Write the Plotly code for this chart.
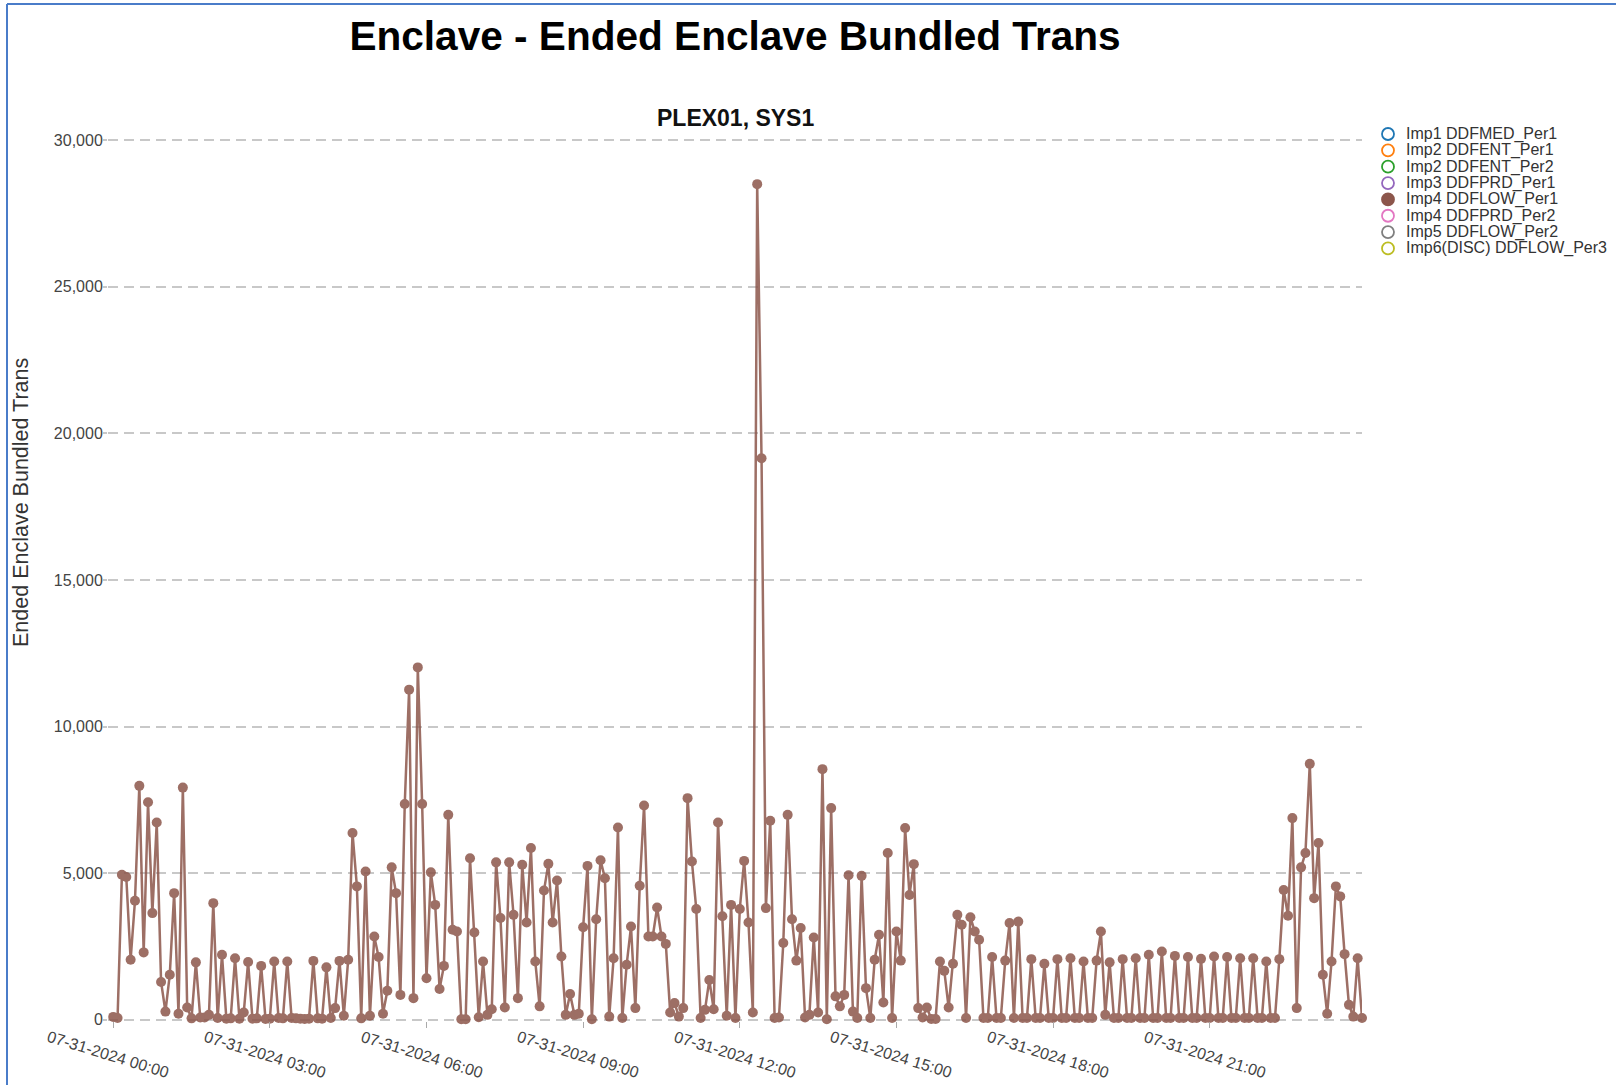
import pandas as pd
import plotly.graph_objects as go

# Ended enclave bundled transactions, 5-minute samples on 07-31-2024 (Imp4 DDFLOW_Per1)
start_time = "2024-07-31 00:00"
ended_trans = [
    100, 60, 4950, 4870, 2050, 4060, 7980, 2300, 7420, 3640,
    6730, 1290, 280, 1540, 4320, 210, 7920, 420, 50, 1960,
    80, 80, 170, 3980, 60, 2220, 40, 50, 2100, 40,
    250, 1970, 40, 50, 1840, 30, 40, 1990, 60, 50,
    1990, 60, 50, 40, 30, 40, 2010, 50, 40, 1790,
    60, 400, 2010, 140, 2050, 6370, 4550, 50, 5060, 140,
    2840, 2140, 210, 990, 5200, 4320, 850, 7360, 11260, 740,
    12020, 7360, 1420, 5030, 3920, 1050, 1840, 6990, 3070, 3010,
    20, 20, 5510, 2980, 90, 1990, 170, 360, 5370, 3470,
    420, 5370, 3580, 740, 5290, 3320, 5860, 1990, 460, 4410,
    5320, 3320, 4750, 2160, 170, 880, 170, 210, 3160, 5250,
    20, 3430, 5440, 4830, 110, 2100, 6560, 60, 1880, 3180,
    400, 4570, 7310, 2840, 2840, 3830, 2840, 2590, 250, 570,
    110, 400, 7560, 5400, 3780, 60, 340, 1360, 360, 6730,
    3530, 140, 3920, 60, 3780, 5420, 3320, 250, 28500, 19150,
    3810, 6790, 60, 80, 2620, 6990, 3430, 2020, 3130, 80,
    170, 2810, 250, 8550, 20, 7220, 800, 460, 850, 4930,
    280, 60, 4910, 1080, 60, 2050, 2900, 590, 5690, 60,
    3010, 2020, 6540, 4260, 5310, 400, 80, 420, 30, 30,
    1990, 1670, 420, 1910, 3580, 3240, 60, 3500, 3010, 2730,
    60, 60, 2140, 60, 60, 2020, 3300, 60, 3350, 60,
    60, 2070, 60, 60, 1910, 60, 60, 2070, 60, 60,
    2100, 60, 60, 1990, 60, 60, 2020, 3010, 170, 1960,
    60, 60, 2070, 60, 60, 2100, 60, 60, 2220, 60,
    60, 2330, 60, 60, 2180, 60, 60, 2140, 60, 60,
    2080, 60, 60, 2160, 60, 60, 2140, 60, 60, 2100,
    60, 60, 2100, 60, 60, 1990, 60, 60, 2070, 4430,
    3550, 6880, 400, 5200, 5690, 8730, 4150, 6030, 1540, 210,
    1990, 4550, 4210, 2240, 510, 110, 2100, 60,
]
times = pd.date_range(start_time, periods=len(ended_trans), freq="5min")

series_names = [
    "Imp1 DDFMED_Per1", "Imp2 DDFENT_Per1", "Imp2 DDFENT_Per2", "Imp3 DDFPRD_Per1",
    "Imp4 DDFLOW_Per1", "Imp4 DDFPRD_Per2", "Imp5 DDFLOW_Per2", "Imp6(DISC) DDFLOW_Per3",
]
series_colors = ["#1f77b4", "#ff7f0e", "#2ca02c", "#9467bd",
                 "#8c564b", "#e377c2", "#7f7f7f", "#bcbd22"]
plotted_series = "Imp4 DDFLOW_Per1"

tick_times = pd.date_range(start_time, periods=8, freq="3h")
tick_labels = [t.strftime("%m-%d-%Y %H:%M") for t in tick_times]
y_ticks = [0, 5000, 10000, 15000, 20000, 25000, 30000]

# page geometry (pixels)
W, H = 1616, 1085
L, R, T, B = 108, 254, 139, 64
FONT = "Liberation Sans, Arial, sans-serif"


def px_x(px):
    return (px - L) / (W - L - R)


def px_y(py):
    return (H - B - py) / (H - T - B)


fig = go.Figure()
fig.add_trace(go.Scatter(
    x=times, y=ended_trans, name=plotted_series,
    mode="lines+markers",
    line=dict(color="#8c564b", width=2.5),
    marker=dict(color="#8c564b", size=10),
    opacity=0.85, cliponaxis=False, showlegend=False,
))

annotations = [
    dict(text="<b>PLEX01, SYS1</b>", xref="paper", yref="paper", x=0.5, y=px_y(118),
         xanchor="center", yanchor="middle", showarrow=False,
         font=dict(size=23, color="#111", family=FONT)),
    dict(text="Ended Enclave Bundled Trans", xref="paper", yref="paper",
         x=px_x(21), y=px_y(503), textangle=-90, xanchor="center", yanchor="middle",
         showarrow=False, font=dict(size=21.5, color="#333", family=FONT)),
]
for t, lab in zip(tick_times, tick_labels):
    annotations.append(dict(
        text=lab, x=t, xref="x", yref="paper", y=px_y(1054), xshift=-5,
        textangle=17, xanchor="center", yanchor="middle", showarrow=False,
        font=dict(size=16, color="#444", family=FONT)))

shapes = [
    # screenshot frame
    dict(type="line", xref="paper", yref="paper", x0=px_x(7), x1=px_x(W + 5),
         y0=px_y(4), y1=px_y(4), line=dict(color="#4a7cc9", width=2)),
    dict(type="line", xref="paper", yref="paper", x0=px_x(7), x1=px_x(7),
         y0=px_y(4), y1=px_y(H + 5), line=dict(color="#4a7cc9", width=2)),
]

# legend drawn by hand to match the tight row spacing
for k, (name, col) in enumerate(zip(series_names, series_colors)):
    ry = px_y(134 + 16.35 * k)
    filled = name == plotted_series
    shapes.append(dict(
        type="circle", xref="paper", yref="paper", xsizemode="pixel", ysizemode="pixel",
        xanchor=px_x(1388), yanchor=ry, x0=-6, x1=6, y0=-6, y1=6,
        line=dict(color=col, width=1.8), fillcolor=col if filled else "rgba(0,0,0,0)"))
    annotations.append(dict(
        text=name, xref="paper", yref="paper", x=px_x(1404), y=ry,
        xanchor="left", yanchor="middle", showarrow=False,
        font=dict(size=16, color="#333", family=FONT)))

fig.update_layout(
    width=W, height=H,
    margin=dict(l=L, r=R, t=T, b=B),
    paper_bgcolor="white", plot_bgcolor="white",
    title=dict(text="<b>Enclave - Ended Enclave Bundled Trans</b>", x=735 / W,
               xanchor="center", y=1 - 36 / H, yanchor="middle",
               font=dict(size=40.6, color="#000", family=FONT)),
    annotations=annotations,
    shapes=shapes,
    font=dict(family=FONT),
)
fig.update_xaxes(
    range=[times[0] - pd.Timedelta(minutes=6), times[-1]],
    tickmode="array", tickvals=tick_times, showticklabels=False,
    ticks="outside", ticklen=6, tickcolor="#aaa", tickwidth=1,
    showgrid=False, zeroline=False, showline=False,
)
fig.update_yaxes(
    range=[-40, 30040], tickmode="array", tickvals=y_ticks, tickformat=",d",
    ticks="outside", ticklen=4, tickcolor="#c8c8c8", tickwidth=1.5,
    ticklabelstandoff=-3,
    tickfont=dict(size=16, color="#444", family=FONT),
    showgrid=True, gridcolor="#c8c8c8", gridwidth=1.5, griddash="10px,6px",
    zeroline=False, showline=False,
)

fig.write_html("out.html", config={"displayModeBar": False},
               post_script="document.body.style.margin='0';")
